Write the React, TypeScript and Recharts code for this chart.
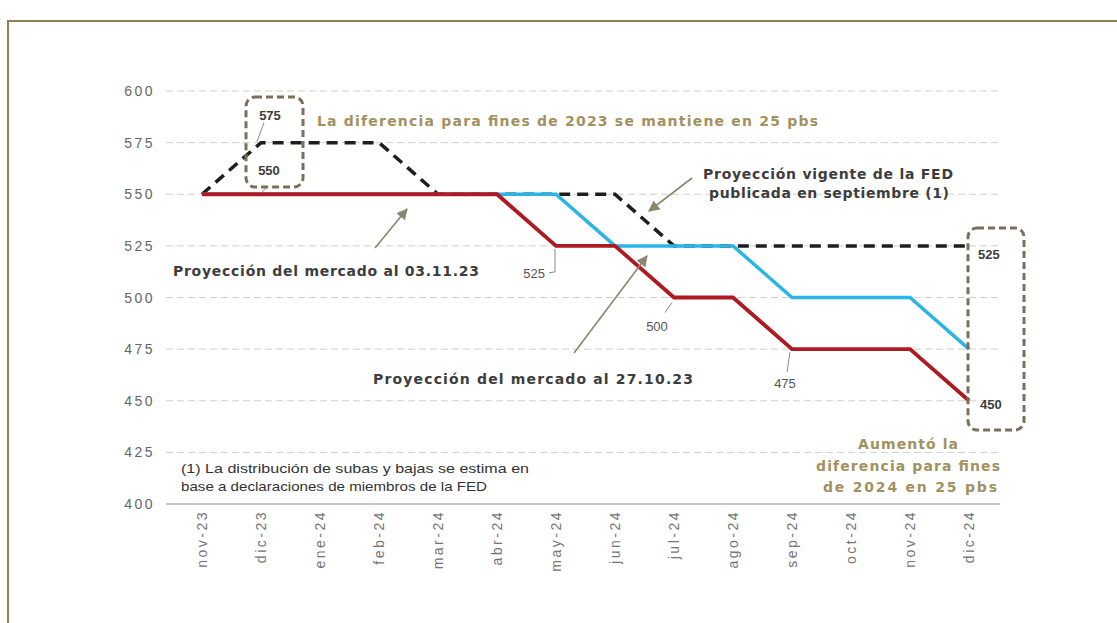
import React from 'react';
import { LineChart, Line, XAxis, YAxis, CartesianGrid } from 'recharts';

const months = ['nov-23', 'dic-23', 'ene-24', 'feb-24', 'mar-24', 'abr-24', 'may-24', 'jun-24', 'jul-24', 'ago-24', 'sep-24', 'oct-24', 'nov-24', 'dic-24'];
const fedSept = [550, 575, 575, 575, 550, 550, 550, 550, 525, 525, 525, 525, 525, 525];
const market2710 = [550, 550, 550, 550, 550, 550, 550, 525, 525, 525, 500, 500, 500, 475];
const market0311 = [550, 550, 550, 550, 550, 550, 525, 525, 500, 500, 475, 475, 475, 450];
const yTicks = [400, 425, 450, 475, 500, 525, 550, 575, 600];

const data = months.map((m, i) => ({ month: m, fed: fedSept[i], m2710: market2710[i], m0311: market0311[i] }));

const FONT = '"Liberation Sans", Arial, sans-serif';
const BOLD_FONT = '"DejaVu Sans", sans-serif';
const OLIVE = '#a2915f';
const DARK = '#3d3d3d';
const ARROW = '#8b8672';
const BOX = '#7b6f5b';

const XTick = ({ x, y, payload }: any) => (
  <text x={x} y={y} dy={5} transform={`rotate(-90, ${x}, ${y})`} textAnchor="end"
    fill="#747474" fontSize={14} letterSpacing={2.5} fontFamily={FONT}>
    {payload.value}
  </text>
);

const YTick = ({ x, y, payload }: any) => (
  <text x={x} y={y} dy={5} textAnchor="end" fill="#666" fontSize={14} letterSpacing={2.5} fontFamily={FONT}>
    {payload.value}
  </text>
);

// labels hung on specific points of each series
const fedDot = (p: any) => {
  const { cx, cy, index } = p;
  if (index === 1) {
    return (
      <g key={`fd-${index}`}>
        <line x1={cx + 3} y1={cy - 20} x2={cx - 4} y2={cy - 1} stroke="#8a8a8a" strokeWidth={1} />
        <text x={cx + 9} y={cy - 23} textAnchor="middle" fontSize={13} fontWeight={700} fill={DARK} fontFamily={FONT}>575</text>
      </g>
    );
  }
  if (index === 13) {
    return (
      <g key={`fd-${index}`}>
        <text x={cx + 9} y={cy + 13} fontSize={13} fontWeight={700} fill={DARK} fontFamily={FONT}>525</text>
      </g>
    );
  }
  return <g key={`fd-${index}`} />;
};

const redDot = (p: any) => {
  const { cx, cy, index } = p;
  const k = `rd-${index}`;
  if (index === 1) {
    return (
      <g key={k}>
        <line x1={cx + 7} y1={cy - 8} x2={cx + 1} y2={cy - 2} stroke="#8a8a8a" strokeWidth={1} />
        <text x={cx + 8} y={cy - 19} textAnchor="middle" fontSize={13} fontWeight={700} fill={DARK} fontFamily={FONT}>550</text>
      </g>
    );
  }
  if (index === 6) {
    return (
      <g key={k}>
        <polyline points={`${cx - 1},${cy + 3} ${cx - 1},${cy + 26} ${cx - 7},${cy + 27}`} fill="none" stroke="#8a8a8a" strokeWidth={1} />
        <text x={cx - 11} y={cy + 32} textAnchor="end" fontSize={13} fill="#555" fontFamily={FONT}>525</text>
      </g>
    );
  }
  if (index === 8) {
    return (
      <g key={k}>
        <line x1={cx - 2} y1={cy + 5} x2={cx - 9} y2={cy + 15} stroke="#8a8a8a" strokeWidth={1} />
        <text x={cx - 17} y={cy + 33} textAnchor="middle" fontSize={13} fill="#555" fontFamily={FONT}>500</text>
      </g>
    );
  }
  if (index === 10) {
    return (
      <g key={k}>
        <line x1={cx - 2} y1={cy + 3} x2={cx - 5} y2={cy + 23} stroke="#8a8a8a" strokeWidth={1} />
        <text x={cx - 7} y={cy + 39} textAnchor="middle" fontSize={13} fill="#555" fontFamily={FONT}>475</text>
      </g>
    );
  }
  if (index === 13) {
    return (
      <g key={k}>
        <text x={cx + 11} y={cy + 8} fontSize={13} fontWeight={700} fill={DARK} fontFamily={FONT}>450</text>
      </g>
    );
  }
  return <g key={k} />;
};

export default function App() {
  return (
    <div style={{ position: 'absolute', left: 0, top: 0, width: 1117, height: 623, background: '#fff', overflow: 'hidden' }}>
      <div style={{ position: 'absolute', left: 7, top: 20, right: 0, bottom: 0, borderLeft: '2px solid #8d8150', borderTop: '2px solid #8d8150' }} />
      <div style={{ position: 'absolute', left: 0, top: 0 }}>
        <LineChart width={1117} height={623} data={data} margin={{ top: 91, right: 117, bottom: 39, left: 106 }}>
          <CartesianGrid vertical={false} stroke="#cfcfcf" strokeDasharray="7 4" />
          <XAxis dataKey="month" padding={{ left: 36, right: 31 }} tickLine={false} tickSize={0} tickMargin={6}
            axisLine={{ stroke: '#b8b8b8', strokeWidth: 1.5 }} height={80} interval={0} tick={<XTick />} />
          <YAxis domain={[400, 600]} ticks={yTicks} width={60} axisLine={false} tickLine={false} tickSize={0}
            tickMargin={11} tick={<YTick />} />
          <Line dataKey="fed" type="linear" stroke="#1e1e1e" strokeWidth={3.5} strokeDasharray="11 7"
            dot={fedDot} activeDot={false} isAnimationActive={false} />
          <Line dataKey="m2710" type="linear" stroke="#2bb5e6" strokeWidth={3.5}
            dot={false} activeDot={false} isAnimationActive={false} />
          <Line dataKey="m0311" type="linear" stroke="#ae1a22" strokeWidth={3.8}
            dot={redDot} activeDot={false} isAnimationActive={false} />
        </LineChart>
      </div>
      <svg width={1117} height={623} style={{ position: 'absolute', left: 0, top: 0, pointerEvents: 'none' }}>
        <defs>
          <marker id="ah" viewBox="0 0 10 10" refX="9" refY="5" markerWidth="7" markerHeight="7" orient="auto">
            <path d="M0,0 L10,5 L0,10 z" fill={ARROW} />
          </marker>
        </defs>
        <rect x={246} y={97} width={57} height={90} rx={9} fill="none" stroke={BOX} strokeWidth={3} strokeDasharray="7 4" />
        <rect x={968} y={228} width={56} height={202} rx={9} fill="none" stroke={BOX} strokeWidth={3} strokeDasharray="7 4" />
        <line x1={375} y1={248} x2={407} y2={209} stroke={ARROW} strokeWidth={1.6} markerEnd="url(#ah)" />
        <line x1={574} y1={353} x2={647} y2={256} stroke={ARROW} strokeWidth={1.6} markerEnd="url(#ah)" />
        <line x1={692} y1={178} x2={649} y2={211} stroke={ARROW} strokeWidth={1.6} markerEnd="url(#ah)" />
        <g fontFamily={BOLD_FONT} fontWeight={700} fontSize={14}>
          <text x={317} y={126} fill={OLIVE} textLength={501} lengthAdjust="spacing">La diferencia para fines de 2023 se mantiene en 25 pbs</text>
          <text x={703} y={179} fill={DARK} textLength={250} lengthAdjust="spacing">Proyección vigente de la FED</text>
          <text x={709} y={198} fill={DARK} textLength={240} lengthAdjust="spacing">publicada en septiembre (1)</text>
          <text x={173} y={276} fill={DARK} textLength={306} lengthAdjust="spacing">Proyección del mercado al 03.11.23</text>
          <text x={373} y={384} fill={DARK} textLength={320} lengthAdjust="spacing">Proyección del mercado al 27.10.23</text>
          <text x={908} y={449} fill={OLIVE} textAnchor="middle" textLength={100} lengthAdjust="spacing">Aumentó la</text>
          <text x={908} y={471} fill={OLIVE} textAnchor="middle" textLength={184} lengthAdjust="spacing">diferencia para fines</text>
          <text x={910} y={492} fill={OLIVE} textAnchor="middle" textLength={174} lengthAdjust="spacing">de 2024 en 25 pbs</text>
        </g>
        <g fontFamily={FONT} fontSize={13} fill="#333">
          <text x={181} y={473} textLength={348} lengthAdjust="spacingAndGlyphs">(1) La distribución de subas y bajas se estima en</text>
          <text x={181} y={491} textLength={306} lengthAdjust="spacingAndGlyphs">base a declaraciones de miembros de la FED</text>
        </g>
      </svg>
    </div>
  );
}
